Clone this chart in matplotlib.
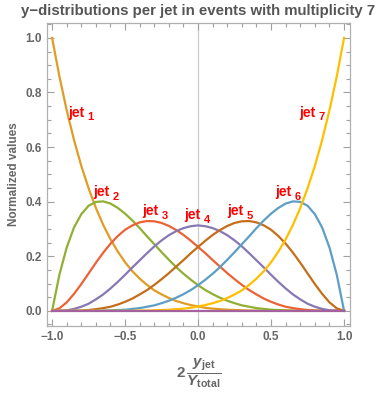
import matplotlib
matplotlib.use("Agg")
import matplotlib.pyplot as plt
from matplotlib.ticker import MultipleLocator

plt.rcParams['font.family'] = ['Liberation Sans', 'DejaVu Sans']
plt.rcParams['mathtext.fontset'] = 'custom'
plt.rcParams['mathtext.rm'] = 'Liberation Sans:bold'
plt.rcParams['mathtext.bf'] = 'Liberation Sans:bold'
plt.rcParams['mathtext.it'] = 'Liberation Sans:bold:italic'

# x = 2 y_jet / Y_total, sampled every 0.05
x = [-1.0, -0.95, -0.9, -0.85, -0.8, -0.75, -0.7, -0.65, -0.6, -0.55,
     -0.5, -0.45, -0.4, -0.35, -0.3, -0.25, -0.2, -0.15, -0.1, -0.05,
     0.0, 0.05, 0.1, 0.15, 0.2, 0.25, 0.3, 0.35, 0.4, 0.45,
     0.5, 0.55, 0.6, 0.65, 0.7, 0.75, 0.8, 0.85, 0.9, 0.95, 1.0]

jet1 = [1.000, 0.859, 0.735, 0.626, 0.531, 0.449, 0.377, 0.315, 0.262, 0.217,
        0.178, 0.145, 0.118, 0.095, 0.075, 0.060, 0.047, 0.036, 0.028, 0.021,
        0.016, 0.011, 0.008, 0.006, 0.004, 0.003, 0.002, 0.001, 0.001, 0.0,
        0.0, 0.0, 0.0, 0.0, 0.0, 0.0, 0.0, 0.0, 0.0, 0.0, 0.0]
jet2 = [0.0, 0.132, 0.232, 0.305, 0.354, 0.385, 0.399, 0.401, 0.393, 0.377,
        0.356, 0.331, 0.303, 0.273, 0.244, 0.215, 0.187, 0.160, 0.136, 0.114,
        0.094, 0.076, 0.061, 0.048, 0.037, 0.028, 0.020, 0.015, 0.010, 0.007,
        0.004, 0.003, 0.002, 0.001, 0.0, 0.0, 0.0, 0.0, 0.0, 0.0, 0.0]
jet3 = [0.0, 0.009, 0.031, 0.062, 0.098, 0.137, 0.176, 0.213, 0.246, 0.274,
        0.297, 0.313, 0.324, 0.329, 0.328, 0.322, 0.311, 0.296, 0.278, 0.257,
        0.234, 0.211, 0.186, 0.162, 0.138, 0.116, 0.095, 0.076, 0.060, 0.045,
        0.033, 0.023, 0.015, 0.010, 0.006, 0.003, 0.001, 0.0, 0.0, 0.0, 0.0]
jet4 = [0.0, 0.000, 0.002, 0.007, 0.015, 0.026, 0.042, 0.060, 0.082, 0.106,
        0.132, 0.159, 0.185, 0.211, 0.236, 0.258, 0.277, 0.292, 0.303, 0.310,
        0.313, 0.310, 0.303, 0.292, 0.277, 0.258, 0.236, 0.211, 0.185, 0.159,
        0.132, 0.106, 0.082, 0.060, 0.042, 0.026, 0.015, 0.007, 0.002, 0.000, 0.0]
jet5 = [0.0, 0.0, 0.0, 0.0, 0.001, 0.003, 0.006, 0.010, 0.015, 0.023,
        0.033, 0.045, 0.060, 0.076, 0.095, 0.116, 0.138, 0.162, 0.186, 0.211,
        0.234, 0.257, 0.278, 0.296, 0.311, 0.322, 0.328, 0.329, 0.324, 0.313,
        0.297, 0.274, 0.246, 0.213, 0.176, 0.137, 0.098, 0.062, 0.031, 0.009, 0.0]
jet6 = [0.0, 0.0, 0.0, 0.0, 0.0, 0.0, 0.0, 0.001, 0.002, 0.003,
        0.004, 0.007, 0.010, 0.015, 0.020, 0.028, 0.037, 0.048, 0.061, 0.076,
        0.094, 0.114, 0.136, 0.160, 0.187, 0.215, 0.244, 0.273, 0.303, 0.331,
        0.356, 0.377, 0.393, 0.401, 0.399, 0.385, 0.354, 0.305, 0.232, 0.132, 0.0]
jet7 = [0.0, 0.0, 0.0, 0.0, 0.0, 0.0, 0.0, 0.0, 0.0, 0.0,
        0.0, 0.0, 0.001, 0.001, 0.002, 0.003, 0.004, 0.006, 0.008, 0.011,
        0.016, 0.021, 0.028, 0.036, 0.047, 0.060, 0.075, 0.095, 0.118, 0.145,
        0.178, 0.217, 0.262, 0.315, 0.377, 0.449, 0.531, 0.626, 0.735, 0.859, 1.000]
rest = [0.0] * len(x)  # higher jets, flat at zero

series = [jet1, jet2, jet3, jet4, jet5, jet6, jet7]
colors = ['#E19C24', '#8FB032', '#EB6235', '#8778B3', '#C56E1A', '#5D9EC7', '#FFBF00']

# label anchor (x, y) for each jet ("jet" text, left edge)
label_x = [-0.89, -0.72, -0.38, -0.095, 0.20, 0.53, 0.69]
label_y = [0.71, 0.42, 0.35, 0.335, 0.35, 0.42, 0.71]

fig = plt.figure(figsize=(3.82, 3.94), dpi=100)
ax = fig.add_axes([0.123, 0.173, 0.793, 0.769])

ax.axvline(0, color='#cccccc', lw=0.9, zorder=0)
for ys, c in zip(series, colors):
    ax.plot(x, ys, color=c, lw=1.6, solid_joinstyle='round')
ax.plot(x, rest, color='#A5609D', lw=1.6)

for i, (lx, ly) in enumerate(zip(label_x, label_y)):
    ax.text(lx, ly, 'jet', color='red', fontsize=10,
            fontweight='bold', ha='left', va='baseline')
    ax.annotate(str(i + 1), (lx, ly), xytext=(14, -2.5), textcoords='offset points',
                color='red', fontsize=8, fontweight='bold', ha='left', va='baseline')

ax.set_xlim(-1.035, 1.04)
ax.set_ylim(-0.055, 1.055)
ax.xaxis.set_major_locator(MultipleLocator(0.5))
ax.xaxis.set_minor_locator(MultipleLocator(0.1))
ax.yaxis.set_major_locator(MultipleLocator(0.2))
ax.yaxis.set_minor_locator(MultipleLocator(0.05))
ax.xaxis.set_major_formatter(lambda v, p: ('%.1f' % v).replace('-', '\u2212'))
ax.yaxis.set_major_formatter(lambda v, p: '%.1f' % v)
ax.tick_params(which='both', direction='in', top=True, right=True,
               color='#a0a0a0', width=0.8, labelsize=8.5, labelcolor='#666666')
ax.tick_params(which='major', length=5)
ax.tick_params(which='minor', length=2.8)
for lab in ax.get_xticklabels() + ax.get_yticklabels():
    lab.set_fontweight('bold')
for sp in ax.spines.values():
    sp.set_color('#b0b0b0')
    sp.set_linewidth(0.9)

ax.set_title('y\u2212distributions per jet in events with multiplicity 7',
             fontsize=10.8, fontweight='bold', color='#555555', pad=6)
ax.set_ylabel('Normalized values', fontsize=8.5, fontweight='bold', color='#666666', labelpad=4)
ax.set_xlabel(r'$2\,\dfrac{y_{\mathrm{jet}}}{Y_{\mathrm{total}}}$', fontsize=11,
              color='#666666', labelpad=10)

fig.savefig('out.png', dpi=100)
